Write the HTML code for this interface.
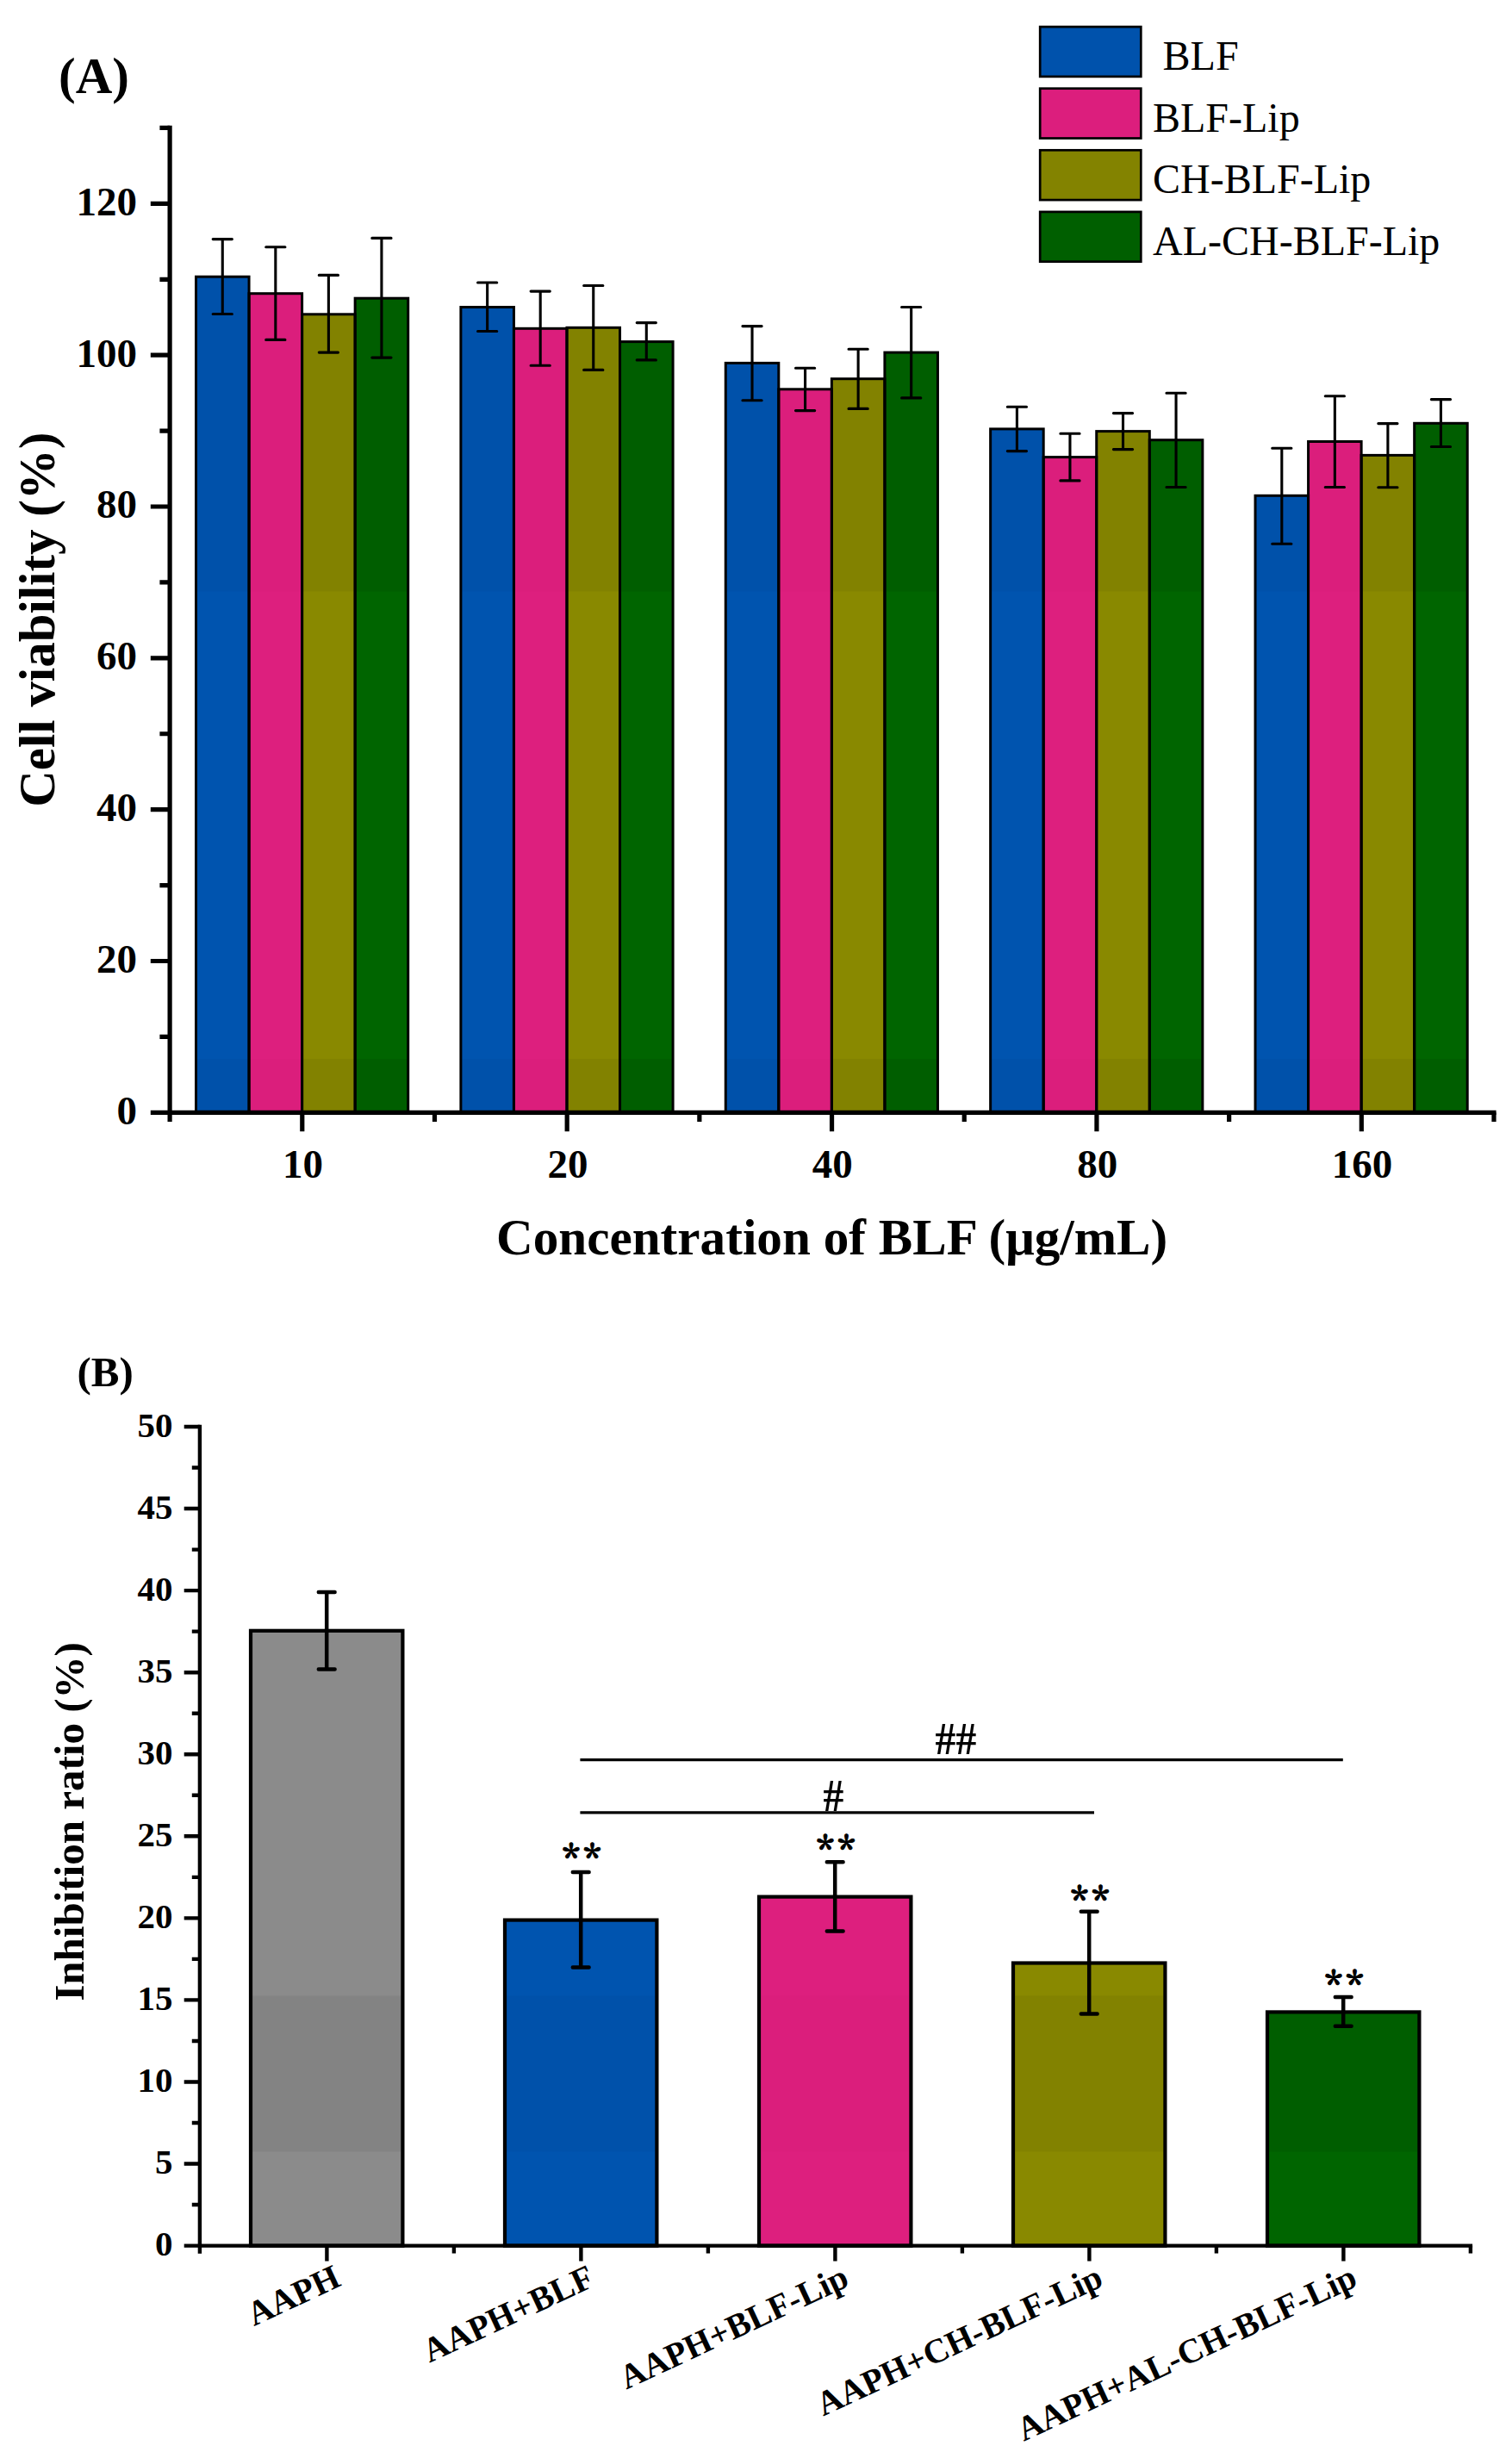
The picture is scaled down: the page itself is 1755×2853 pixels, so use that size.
<!DOCTYPE html>
<html lang="en">
<head>
<meta charset="utf-8">
<title>Cell viability and inhibition ratio of BLF liposomes</title>
<style>
html,body{margin:0;padding:0;background:#fff;}
body{width:1755px;height:2853px;overflow:hidden;}
svg{display:block;}
text{white-space:pre;}
</style>
</head>
<body>
<svg width="1755" height="2853" viewBox="0 0 1755 2853">
<rect x="0" y="0" width="1755" height="2853" fill="#fff"/>
<g id="panelA">
<g stroke="none">
<rect x="227.5" y="321.2" width="61.55" height="365.8" fill="#0051AA"/>
<rect x="227.5" y="686.5" width="61.55" height="543" fill="#0054AF"/>
<rect x="227.5" y="1229" width="61.55" height="62.8" fill="#0051AA"/>
<rect x="289.05" y="340.7" width="61.55" height="346.3" fill="#DB1E7C"/>
<rect x="289.05" y="686.5" width="61.55" height="543" fill="#DD1F7E"/>
<rect x="289.05" y="1229" width="61.55" height="62.8" fill="#DB1E7C"/>
<rect x="350.6" y="364.8" width="61.55" height="322.2" fill="#828200"/>
<rect x="350.6" y="686.5" width="61.55" height="543" fill="#898900"/>
<rect x="350.6" y="1229" width="61.55" height="62.8" fill="#828200"/>
<rect x="412.15" y="346.2" width="61.55" height="340.8" fill="#005E00"/>
<rect x="412.15" y="686.5" width="61.55" height="543" fill="#006500"/>
<rect x="412.15" y="1229" width="61.55" height="62.8" fill="#005E00"/>
<rect x="534.88" y="356.5" width="61.55" height="330.5" fill="#0051AA"/>
<rect x="534.88" y="686.5" width="61.55" height="543" fill="#0054AF"/>
<rect x="534.88" y="1229" width="61.55" height="62.8" fill="#0051AA"/>
<rect x="596.43" y="381.3" width="61.55" height="305.7" fill="#DB1E7C"/>
<rect x="596.43" y="686.5" width="61.55" height="543" fill="#DD1F7E"/>
<rect x="596.43" y="1229" width="61.55" height="62.8" fill="#DB1E7C"/>
<rect x="657.98" y="380.3" width="61.55" height="306.7" fill="#828200"/>
<rect x="657.98" y="686.5" width="61.55" height="543" fill="#898900"/>
<rect x="657.98" y="1229" width="61.55" height="62.8" fill="#828200"/>
<rect x="719.53" y="396.6" width="61.55" height="290.4" fill="#005E00"/>
<rect x="719.53" y="686.5" width="61.55" height="543" fill="#006500"/>
<rect x="719.53" y="1229" width="61.55" height="62.8" fill="#005E00"/>
<rect x="842.26" y="421.4" width="61.55" height="265.6" fill="#0051AA"/>
<rect x="842.26" y="686.5" width="61.55" height="543" fill="#0054AF"/>
<rect x="842.26" y="1229" width="61.55" height="62.8" fill="#0051AA"/>
<rect x="903.81" y="451.8" width="61.55" height="235.2" fill="#DB1E7C"/>
<rect x="903.81" y="686.5" width="61.55" height="543" fill="#DD1F7E"/>
<rect x="903.81" y="1229" width="61.55" height="62.8" fill="#DB1E7C"/>
<rect x="965.36" y="439.7" width="61.55" height="247.3" fill="#828200"/>
<rect x="965.36" y="686.5" width="61.55" height="543" fill="#898900"/>
<rect x="965.36" y="1229" width="61.55" height="62.8" fill="#828200"/>
<rect x="1026.91" y="409.1" width="61.55" height="277.9" fill="#005E00"/>
<rect x="1026.91" y="686.5" width="61.55" height="543" fill="#006500"/>
<rect x="1026.91" y="1229" width="61.55" height="62.8" fill="#005E00"/>
<rect x="1149.64" y="497.9" width="61.55" height="189.1" fill="#0051AA"/>
<rect x="1149.64" y="686.5" width="61.55" height="543" fill="#0054AF"/>
<rect x="1149.64" y="1229" width="61.55" height="62.8" fill="#0051AA"/>
<rect x="1211.19" y="530.6" width="61.55" height="156.4" fill="#DB1E7C"/>
<rect x="1211.19" y="686.5" width="61.55" height="543" fill="#DD1F7E"/>
<rect x="1211.19" y="1229" width="61.55" height="62.8" fill="#DB1E7C"/>
<rect x="1272.74" y="500.6" width="61.55" height="186.4" fill="#828200"/>
<rect x="1272.74" y="686.5" width="61.55" height="543" fill="#898900"/>
<rect x="1272.74" y="1229" width="61.55" height="62.8" fill="#828200"/>
<rect x="1334.29" y="510.7" width="61.55" height="176.3" fill="#005E00"/>
<rect x="1334.29" y="686.5" width="61.55" height="543" fill="#006500"/>
<rect x="1334.29" y="1229" width="61.55" height="62.8" fill="#005E00"/>
<rect x="1457.02" y="575.3" width="61.55" height="111.7" fill="#0051AA"/>
<rect x="1457.02" y="686.5" width="61.55" height="543" fill="#0054AF"/>
<rect x="1457.02" y="1229" width="61.55" height="62.8" fill="#0051AA"/>
<rect x="1518.57" y="512.5" width="61.55" height="174.5" fill="#DB1E7C"/>
<rect x="1518.57" y="686.5" width="61.55" height="543" fill="#DD1F7E"/>
<rect x="1518.57" y="1229" width="61.55" height="62.8" fill="#DB1E7C"/>
<rect x="1580.12" y="528.4" width="61.55" height="158.6" fill="#828200"/>
<rect x="1580.12" y="686.5" width="61.55" height="543" fill="#898900"/>
<rect x="1580.12" y="1229" width="61.55" height="62.8" fill="#828200"/>
<rect x="1641.67" y="491.3" width="61.55" height="195.7" fill="#005E00"/>
<rect x="1641.67" y="686.5" width="61.55" height="543" fill="#006500"/>
<rect x="1641.67" y="1229" width="61.55" height="62.8" fill="#005E00"/>
</g>
<g stroke="#000" stroke-width="3" stroke-linejoin="miter" fill="none">
<rect x="227.5" y="321.2" width="61.55" height="970.1"/>
<rect x="289.05" y="340.7" width="61.55" height="950.6"/>
<rect x="350.6" y="364.8" width="61.55" height="926.5"/>
<rect x="412.15" y="346.2" width="61.55" height="945.1"/>
<rect x="534.88" y="356.5" width="61.55" height="934.8"/>
<rect x="596.43" y="381.3" width="61.55" height="910"/>
<rect x="657.98" y="380.3" width="61.55" height="911"/>
<rect x="719.53" y="396.6" width="61.55" height="894.7"/>
<rect x="842.26" y="421.4" width="61.55" height="869.9"/>
<rect x="903.81" y="451.8" width="61.55" height="839.5"/>
<rect x="965.36" y="439.7" width="61.55" height="851.6"/>
<rect x="1026.91" y="409.1" width="61.55" height="882.2"/>
<rect x="1149.64" y="497.9" width="61.55" height="793.4"/>
<rect x="1211.19" y="530.6" width="61.55" height="760.7"/>
<rect x="1272.74" y="500.6" width="61.55" height="790.7"/>
<rect x="1334.29" y="510.7" width="61.55" height="780.6"/>
<rect x="1457.02" y="575.3" width="61.55" height="716"/>
<rect x="1518.57" y="512.5" width="61.55" height="778.8"/>
<rect x="1580.12" y="528.4" width="61.55" height="762.9"/>
<rect x="1641.67" y="491.3" width="61.55" height="800"/>
</g>
<g stroke="#000" stroke-width="3.1" stroke-linecap="round" fill="none">
<path d="M258.27 277.6V364.5M247.17 277.6h22.2M247.17 364.5h22.2"/>
<path d="M319.82 286.7V394.4M308.72 286.7h22.2M308.72 394.4h22.2"/>
<path d="M381.38 319.4V409.1M370.27 319.4h22.2M370.27 409.1h22.2"/>
<path d="M442.92 276.4V415.1M431.82 276.4h22.2M431.82 415.1h22.2"/>
<path d="M565.65 328V384.5M554.55 328h22.2M554.55 384.5h22.2"/>
<path d="M627.2 338.1V424.2M616.1 338.1h22.2M616.1 424.2h22.2"/>
<path d="M688.75 331.5V429.4M677.65 331.5h22.2M677.65 429.4h22.2"/>
<path d="M750.3 374.6V417.9M739.2 374.6h22.2M739.2 417.9h22.2"/>
<path d="M873.03 378.6V464.7M861.93 378.6h22.2M861.93 464.7h22.2"/>
<path d="M934.59 427.2V476.6M923.49 427.2h22.2M923.49 476.6h22.2"/>
<path d="M996.13 405.2V474.4M985.03 405.2h22.2M985.03 474.4h22.2"/>
<path d="M1057.68 356.5V461.9M1046.59 356.5h22.2M1046.59 461.9h22.2"/>
<path d="M1180.41 472.2V523.6M1169.32 472.2h22.2M1169.32 523.6h22.2"/>
<path d="M1241.96 503.2V557.9M1230.87 503.2h22.2M1230.87 557.9h22.2"/>
<path d="M1303.51 479.6V521.6M1292.41 479.6h22.2M1292.41 521.6h22.2"/>
<path d="M1365.06 456.2V565.5M1353.96 456.2h22.2M1353.96 565.5h22.2"/>
<path d="M1487.8 520.2V631.3M1476.7 520.2h22.2M1476.7 631.3h22.2"/>
<path d="M1549.35 459.8V565.5M1538.25 459.8h22.2M1538.25 565.5h22.2"/>
<path d="M1610.89 491.6V565.7M1599.8 491.6h22.2M1599.8 565.7h22.2"/>
<path d="M1672.44 463.6V518.5M1661.35 463.6h22.2M1661.35 518.5h22.2"/>
</g>
<g stroke="#000" stroke-width="5.2" fill="none" stroke-linecap="butt">
<path d="M197.1 145.87V1302"/>
<path d="M174.8 1291.3H1736.6"/>
<path d="M174.8 1115.48H197.1M174.8 939.66H197.1M174.8 763.84H197.1M174.8 588.02H197.1M174.8 412.2H197.1M174.8 236.38H197.1M185.4 1203.39H197.1M185.4 1027.57H197.1M185.4 851.75H197.1M185.4 675.93H197.1M185.4 500.11H197.1M185.4 324.29H197.1M185.4 148.47H197.1"/>
<path d="M350.79 1291.3V1313.3M658.17 1291.3V1313.3M965.55 1291.3V1313.3M1272.93 1291.3V1313.3M1580.31 1291.3V1313.3M504.48 1291.3V1302M811.86 1291.3V1302M1119.24 1291.3V1302M1426.62 1291.3V1302M1734 1291.3V1302"/>
</g>
<g font-family='"Liberation Serif", "Times New Roman", Times, serif' font-weight="bold" font-size="47" text-anchor="end" fill="#000">
<text x="159" y="1304.6">0</text>
<text x="159" y="1128.78">20</text>
<text x="159" y="952.96">40</text>
<text x="159" y="777.14">60</text>
<text x="159" y="601.32">80</text>
<text x="159" y="425.5">100</text>
<text x="159" y="249.68">120</text>
</g>
<g font-family='"Liberation Serif", "Times New Roman", Times, serif' font-weight="bold" font-size="47" text-anchor="middle" fill="#000">
<text x="351.59" y="1366.5">10</text>
<text x="658.97" y="1366.5">20</text>
<text x="966.35" y="1366.5">40</text>
<text x="1273.73" y="1366.5">80</text>
<text x="1581.11" y="1366.5">160</text>
</g>
<text x="965.6" y="1455.6" font-family='"Liberation Serif", "Times New Roman", Times, serif' font-weight="bold" font-size="60" text-anchor="middle" textLength="779.4" lengthAdjust="spacingAndGlyphs">Concentration of BLF (μg/mL)</text>
<text transform="translate(62.5 719.2) rotate(-90)" font-family='"Liberation Serif", "Times New Roman", Times, serif' font-weight="bold" font-size="60" text-anchor="middle" textLength="434.9" lengthAdjust="spacingAndGlyphs">Cell viability (%)</text>
<text x="68" y="108" font-family='"Liberation Serif", "Times New Roman", Times, serif' font-weight="bold" font-size="59">(A)</text>
<g stroke="#000" stroke-width="2.7">
<rect x="1207.2" y="31.1" width="117.1" height="57.8" fill="#0052AC"/>
<rect x="1207.2" y="102.7" width="117.1" height="57.8" fill="#DC1E7D"/>
<rect x="1207.2" y="174.3" width="117.1" height="57.8" fill="#838300"/>
<rect x="1207.2" y="245.9" width="117.1" height="57.8" fill="#005F00"/>
</g>
<g font-family='"Liberation Serif", "Times New Roman", Times, serif' font-size="48" fill="#000">
<text x="1349.6" y="81.1">BLF</text>
<text x="1338" y="152.7">BLF-Lip</text>
<text x="1338" y="224.3">CH-BLF-Lip</text>
<text x="1338" y="295.9">AL-CH-BLF-Lip</text>
</g>
</g>
<g id="panelB">
<g stroke="none">
<rect x="291" y="1892.8" width="176.4" height="424.2" fill="#8B8B8B"/>
<rect x="291" y="2316.5" width="176.4" height="181.5" fill="#838383"/>
<rect x="291" y="2497.5" width="176.4" height="109.6" fill="#8B8B8B"/>
<rect x="586" y="2228.6" width="176.4" height="88.4" fill="#0054AF"/>
<rect x="586" y="2316.5" width="176.4" height="181.5" fill="#0051AA"/>
<rect x="586" y="2497.5" width="176.4" height="109.6" fill="#0054AF"/>
<rect x="881" y="2201.6" width="176.4" height="115.4" fill="#DD1F7E"/>
<rect x="881" y="2316.5" width="176.4" height="181.5" fill="#DB1E7C"/>
<rect x="881" y="2497.5" width="176.4" height="109.6" fill="#DD1F7E"/>
<rect x="1176" y="2278.5" width="176.4" height="38.5" fill="#898900"/>
<rect x="1176" y="2316.5" width="176.4" height="181.5" fill="#828200"/>
<rect x="1176" y="2497.5" width="176.4" height="109.6" fill="#898900"/>
<rect x="1471" y="2335.4" width="176.4" height="162.6" fill="#005E00"/>
<rect x="1471" y="2497.5" width="176.4" height="109.6" fill="#006500"/>
</g>
<g stroke="#000" stroke-width="4.2" stroke-linejoin="miter" fill="none">
<rect x="291" y="1892.8" width="176.4" height="713.8"/>
<rect x="586" y="2228.6" width="176.4" height="378"/>
<rect x="881" y="2201.6" width="176.4" height="405"/>
<rect x="1176" y="2278.5" width="176.4" height="328.1"/>
<rect x="1471" y="2335.4" width="176.4" height="271.2"/>
</g>
<g stroke="#000" stroke-width="4.5" stroke-linecap="round" fill="none">
<path d="M379.2 1848V1937.6M369.8 1848h18.8M369.8 1937.6h18.8"/>
<path d="M674.2 2172.9V2283.6M664.8 2172.9h18.8M664.8 2283.6h18.8"/>
<path d="M969.2 2161.3V2241.5M959.8 2161.3h18.8M959.8 2241.5h18.8"/>
<path d="M1264.2 2218.7V2337.4M1254.8 2218.7h18.8M1254.8 2337.4h18.8"/>
<path d="M1559.2 2317.9V2351.7M1549.8 2317.9h18.8M1549.8 2351.7h18.8"/>
</g>
<g stroke="#000" stroke-width="4.4" fill="none">
<path d="M231.9 1653.8V2615.8"/>
<path d="M213.7 2606.6H1709.1"/>
<path d="M213.7 2511.54H231.9M213.7 2416.48H231.9M213.7 2321.42H231.9M213.7 2226.36H231.9M213.7 2131.3H231.9M213.7 2036.24H231.9M213.7 1941.18H231.9M213.7 1846.12H231.9M213.7 1751.06H231.9M213.7 1656H231.9M222.8 2559.07H231.9M222.8 2464.01H231.9M222.8 2368.95H231.9M222.8 2273.89H231.9M222.8 2178.83H231.9M222.8 2083.77H231.9M222.8 1988.71H231.9M222.8 1893.65H231.9M222.8 1798.59H231.9M222.8 1703.53H231.9"/>
<path d="M379.4 2606.6V2624.6M674.4 2606.6V2624.6M969.4 2606.6V2624.6M1264.4 2606.6V2624.6M1559.4 2606.6V2624.6M526.9 2606.6V2615.6M821.9 2606.6V2615.6M1116.9 2606.6V2615.6M1411.9 2606.6V2615.6M1706.9 2606.6V2615.6"/>
</g>
<g font-family='"Liberation Serif", "Times New Roman", Times, serif' font-weight="bold" font-size="41" text-anchor="end" fill="#000">
<text x="200.5" y="2618.4">0</text>
<text x="200.5" y="2523.34">5</text>
<text x="200.5" y="2428.28">10</text>
<text x="200.5" y="2333.22">15</text>
<text x="200.5" y="2238.16">20</text>
<text x="200.5" y="2143.1">25</text>
<text x="200.5" y="2048.04">30</text>
<text x="200.5" y="1952.98">35</text>
<text x="200.5" y="1857.92">40</text>
<text x="200.5" y="1762.86">45</text>
<text x="200.5" y="1667.8">50</text>
</g>
<g font-family='"Liberation Serif", "Times New Roman", Times, serif' font-weight="bold" font-size="40" text-anchor="end" fill="#000">
<text transform="translate(397.4 2652.4) rotate(-25)">AAPH</text>
<text transform="translate(692.4 2652.4) rotate(-25)">AAPH+BLF</text>
<text transform="translate(987.4 2652.4) rotate(-25)">AAPH+BLF-Lip</text>
<text transform="translate(1282.4 2652.4) rotate(-25)">AAPH+CH-BLF-Lip</text>
<text transform="translate(1577.4 2652.4) rotate(-25)">AAPH+AL-CH-BLF-Lip</text>
</g>
<text transform="translate(96.7 2114.5) rotate(-90)" font-family='"Liberation Serif", "Times New Roman", Times, serif' font-weight="bold" font-size="49" text-anchor="middle">Inhibition ratio (%)</text>
<text x="89.5" y="1608.9" font-family='"Liberation Serif", "Times New Roman", Times, serif' font-weight="bold" font-size="49">(B)</text>
<g stroke="#000" stroke-width="3.2" fill="none"><path d="M673.4 2042.6H1558.8M673.4 2103.9H1270"/></g>
<g font-family='"Liberation Serif", "Times New Roman", Times, serif' font-weight="bold" font-size="49.5" text-anchor="middle" fill="#000">
<text transform="translate(1109.4 2035.6) scale(.962 1.067)">##</text>
<text transform="translate(967.4 2101.6) scale(.962 1.067)">#</text>
</g>
<g font-family='"Noto Serif CJK SC", "Liberation Serif", "Times New Roman", serif' font-weight="bold" font-size="41" fill="#000" stroke="#000" stroke-width="1" stroke-linejoin="round">
<text x="653.1 677.5" y="2172.8">**</text>
<text x="948.1 972.5" y="2163.2">**</text>
<text x="1243.1 1267.5" y="2221.9">**</text>
<text x="1538.1 1562.5" y="2320.2">**</text>
</g>
</g>
</svg>
</body>
</html>
